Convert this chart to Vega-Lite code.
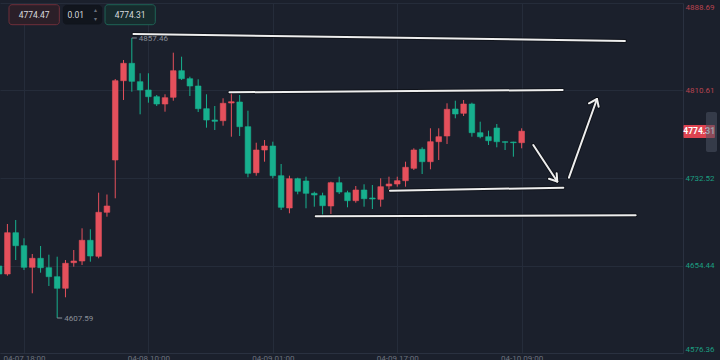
{
  "$schema": "https://vega.github.io/schema/vega-lite/v6.json",
  "width": 683,
  "height": 350,
  "autosize": {"type": "none"},
  "padding": {"left": 0, "top": 3, "right": 37, "bottom": 7},
  "background": "#1b202c",
  "config": {"view": {"stroke": null}, "font": "Roboto"},
  "datasets": {
    "candles": [
      {"i":0,"open":4654.00,"high":4655.78,"low":4645.08,"close":4646.86},
      {"i":1,"open":4646.86,"high":4691.48,"low":4645.34,"close":4683.71},
      {"i":2,"open":4683.71,"high":4695.05,"low":4659.35,"close":4672.11},
      {"i":3,"open":4672.11,"high":4678.72,"low":4650.43,"close":4652.84},
      {"i":4,"open":4652.84,"high":4664.71,"low":4629.64,"close":4660.87},
      {"i":5,"open":4660.87,"high":4671.85,"low":4648.02,"close":4652.48},
      {"i":6,"open":4652.48,"high":4664.08,"low":4636.15,"close":4644.45},
      {"i":7,"open":4644.45,"high":4662.30,"low":4607.59,"close":4634.10},
      {"i":8,"open":4634.10,"high":4659.35,"low":4626.07,"close":4656.41},
      {"i":9,"open":4656.94,"high":4668.28,"low":4653.37,"close":4658.46},
      {"i":10,"open":4658.46,"high":4687.64,"low":4654.89,"close":4676.93},
      {"i":11,"open":4676.93,"high":4686.75,"low":4657.84,"close":4662.92},
      {"i":12,"open":4662.66,"high":4719.41,"low":4660.87,"close":4701.92},
      {"i":13,"open":4701.92,"high":4717.80,"low":4697.99,"close":4707.54},
      {"i":14,"open":4748.59,"high":4820.87,"low":4714.41,"close":4819.35},
      {"i":15,"open":4819.35,"high":4837.83,"low":4802.13,"close":4834.88},
      {"i":16,"open":4834.88,"high":4857.46,"low":4809.54,"close":4818.82},
      {"i":17,"open":4818.46,"high":4825.96,"low":4789.37,"close":4811.06},
      {"i":18,"open":4811.06,"high":4825.96,"low":4799.72,"close":4805.08},
      {"i":19,"open":4805.08,"high":4806.59,"low":4796.78,"close":4798.56},
      {"i":20,"open":4798.56,"high":4807.22,"low":4791.69,"close":4804.18},
      {"i":21,"open":4804.54,"high":4844.34,"low":4801.51,"close":4828.28},
      {"i":22,"open":4828.28,"high":4840.77,"low":4819.98,"close":4821.14},
      {"i":23,"open":4821.14,"high":4822.92,"low":4805.70,"close":4814.62},
      {"i":24,"open":4814.62,"high":4820.60,"low":4791.42,"close":4794.37},
      {"i":25,"open":4794.37,"high":4807.22,"low":4777.41,"close":4784.28},
      {"i":26,"open":4784.28,"high":4796.78,"low":4775.36,"close":4783.12},
      {"i":27,"open":4783.66,"high":4803.65,"low":4779.20,"close":4799.19},
      {"i":28,"open":4799.45,"high":4808.65,"low":4769.38,"close":4800.61},
      {"i":29,"open":4800.35,"high":4806.59,"low":4770.01,"close":4778.31},
      {"i":30,"open":4778.31,"high":4792.58,"low":4733.15,"close":4736.72},
      {"i":31,"open":4737.26,"high":4764.03,"low":4734.58,"close":4757.51},
      {"i":32,"open":4757.51,"high":4766.44,"low":4747.07,"close":4761.08},
      {"i":33,"open":4761.08,"high":4764.92,"low":4732.26,"close":4734.58},
      {"i":34,"open":4734.58,"high":4745.02,"low":4703.97,"close":4706.38},
      {"i":35,"open":4705.76,"high":4734.58,"low":4701.03,"close":4731.90},
      {"i":36,"open":4731.90,"high":4732.80,"low":4717.98,"close":4720.66},
      {"i":37,"open":4729.85,"high":4733.69,"low":4705.49,"close":4718.87},
      {"i":38,"open":4718.87,"high":4720.30,"low":4706.92,"close":4717.36},
      {"i":39,"open":4716.73,"high":4719.41,"low":4699.51,"close":4707.81},
      {"i":40,"open":4707.54,"high":4729.23,"low":4700.40,"close":4728.33},
      {"i":41,"open":4728.33,"high":4733.69,"low":4718.25,"close":4720.03},
      {"i":42,"open":4719.41,"high":4721.19,"low":4706.38,"close":4712.27},
      {"i":43,"open":4712.27,"high":4725.39,"low":4710.49,"close":4721.82},
      {"i":44,"open":4721.82,"high":4726.91,"low":4706.92,"close":4714.06},
      {"i":45,"open":4714.68,"high":4726.28,"low":4704.86,"close":4713.79},
      {"i":46,"open":4713.52,"high":4732.26,"low":4706.92,"close":4724.76},
      {"i":47,"open":4725.39,"high":4733.69,"low":4721.82,"close":4727.17},
      {"i":48,"open":4727.17,"high":4733.69,"low":4724.76,"close":4730.12},
      {"i":49,"open":4730.12,"high":4747.07,"low":4724.76,"close":4742.08},
      {"i":50,"open":4741.18,"high":4759.03,"low":4739.67,"close":4757.51},
      {"i":51,"open":4758.14,"high":4759.92,"low":4736.10,"close":4747.07},
      {"i":52,"open":4747.07,"high":4776.88,"low":4740.29,"close":4764.92},
      {"i":53,"open":4764.92,"high":4776.88,"low":4748.59,"close":4769.38},
      {"i":54,"open":4770.01,"high":4799.19,"low":4762.87,"close":4793.83},
      {"i":55,"open":4794.10,"high":4801.51,"low":4785.80,"close":4789.64},
      {"i":56,"open":4790.26,"high":4802.13,"low":4787.85,"close":4798.56},
      {"i":57,"open":4798.56,"high":4799.72,"low":4769.38,"close":4772.95},
      {"i":58,"open":4772.95,"high":4782.77,"low":4767.95,"close":4769.38},
      {"i":59,"open":4769.38,"high":4774.74,"low":4761.98,"close":4765.81},
      {"i":60,"open":4777.15,"high":4780.71,"low":4759.92,"close":4764.92},
      {"i":61,"open":4764.92,"high":4765.20,"low":4757.51,"close":4764.38},
      {"i":62,"open":4764.65,"high":4764.90,"low":4751.53,"close":4764.03},
      {"i":63,"open":4764.03,"high":4776.88,"low":4759.03,"close":4774.31}
    ],
    "drawings": [
      {"i":16.20,"p":4861.03,"i2":75.45,"p2":4854.78},
      {"i":27.77,"p":4809.00,"i2":67.94,"p2":4811.05},
      {"i":47.12,"p":4721.19,"i2":68.02,"p2":4723.87},
      {"i":38.17,"p":4698.35,"i2":76.74,"p2":4699.24},
      {"i":64.40,"p":4761.98,"i2":67.29,"p2":4729.40},
      {"i":66.29,"p":4731.90,"i2":67.29,"p2":4729.40},
      {"i":67.22,"p":4736.72,"i2":67.29,"p2":4729.40},
      {"i":68.70,"p":4732.80,"i2":72.08,"p2":4803.02},
      {"i":71.11,"p":4799.19,"i2":72.08,"p2":4803.02},
      {"i":72.28,"p":4796.16,"i2":72.08,"p2":4803.02}
    ],
    "extremes": [
      {"i":16,"p":4857.46},
      {"i":7,"p":4607.59}
    ],
    "quote": [
      {"side":"ask","label":"4774.47","i":1.19,"i2":7.26,"p":4887.17,"p2":4869.33,"ic":4.23,"pc":4878.25},
      {"side":"step","label":"0.01","i":7.74,"i2":12.37,"p":4886.46,"p2":4869.95,"ic":9.24,"pc":4878.25},
      {"side":"bid","label":"4774.31","i":12.77,"i2":18.83,"p":4887.17,"p2":4869.33,"ic":15.80,"pc":4878.25}
    ],
    "stepper": [
      {"g":"▴","i":11.64,"p":4882.2},
      {"g":"▾","i":11.64,"p":4874.4}
    ],
    "last": [
      {"label":"4774.31","i":82.51,"i2":86.3,"p":4779.82,"p2":4768.22,"ic":84.4,"pc":4774.31}
    ],
    "handle": [
      {"i":85.22,"i2":86.55,"p":4791.42,"p2":4755.73}
    ]
  },
  "layer": [
    {
      "data": {"name": "candles"},
      "mark": {"type": "rule", "strokeWidth": 1},
      "encoding": {
        "x": {"field": "i", "type": "quantitative",
              "scale": {"domain": [0.107, 82.45], "nice": false, "zero": false, "padding": 0},
              "axis": {"title": null, "values": [3, 18, 33, 48, 63],
                       "labelExpr": "datum.value == 3 ? '04-07 18:00' : datum.value == 18 ? '04-08 10:00' : datum.value == 33 ? '04-09 01:00' : datum.value == 48 ? '04-09 17:00' : '04-10 09:00'",
                       "grid": true, "gridColor": "#252c3a", "gridWidth": 1,
                       "domain": true, "domainColor": "#2a3140", "ticks": false,
                       "labelFontSize": 8, "labelFont": "Roboto", "labelColor": "#6b717d",
                       "labelPadding": 1, "labelBaseline": "top", "labelFlush": false, "labelOverlap": false}},
        "y": {"field": "low", "type": "quantitative",
              "scale": {"domain": [4576.36, 4888.69], "nice": false, "zero": false, "padding": 0},
              "axis": {"orient": "right", "title": null,
                       "values": [4576.36, 4654.44, 4732.52, 4810.61, 4888.69],
                       "format": ".2f", "grid": true, "gridColor": "#252c3a", "gridWidth": 1,
                       "domain": true, "domainColor": "#2a3140", "ticks": false,
                       "labelFontSize": 8, "labelFont": "Roboto", "labelPadding": 2,
                       "labelFlush": true, "labelOverlap": false,
                       "labelColor": {"condition": {"test": "datum.value > 4774.31", "value": "#b8434f"}, "value": "#1b9e80"}}},
        "y2": {"field": "high"},
        "color": {"condition": {"test": "datum.close >= datum.open", "value": "#e5505c"}, "value": "#17b08e"}
      }
    },
    {
      "mark": {"type": "rule", "color": "#93404b", "strokeDash": [2, 2], "strokeWidth": 1},
      "encoding": {
        "y": {"datum": 4774.31, "type": "quantitative",
              "scale": {"domain": [4576.36, 4888.69], "nice": false, "zero": false, "padding": 0}}
      }
    },
    {
      "data": {"name": "candles"},
      "mark": {"type": "bar", "width": 5.6, "strokeWidth": 0.6},
      "encoding": {
        "x": {"field": "i", "type": "quantitative", "scale": {"domain": [0.107, 82.45], "nice": false, "zero": false, "padding": 0}},
        "y": {"field": "open", "type": "quantitative", "scale": {"domain": [4576.36, 4888.69], "nice": false, "zero": false, "padding": 0}},
        "y2": {"field": "close"},
        "color": {"condition": {"test": "datum.close >= datum.open", "value": "#e5505c"}, "value": "#17b08e"},
        "stroke": {"condition": {"test": "datum.close >= datum.open", "value": "#e5505c"}, "value": "#17b08e"}
      }
    },
    {
      "data": {"name": "drawings"},
      "mark": {"type": "rule", "color": "#0b0e14", "strokeWidth": 4, "opacity": 0.7, "strokeCap": "round"},
      "encoding": {
        "x": {"field": "i", "type": "quantitative", "scale": {"domain": [0.107, 82.45], "nice": false, "zero": false, "padding": 0}},
        "x2": {"field": "i2"},
        "y": {"field": "p", "type": "quantitative", "scale": {"domain": [4576.36, 4888.69], "nice": false, "zero": false, "padding": 0}},
        "y2": {"field": "p2"}
      }
    },
    {
      "data": {"name": "drawings"},
      "mark": {"type": "rule", "color": "#eeeeee", "strokeWidth": 2, "strokeCap": "round"},
      "encoding": {
        "x": {"field": "i", "type": "quantitative", "scale": {"domain": [0.107, 82.45], "nice": false, "zero": false, "padding": 0}},
        "x2": {"field": "i2"},
        "y": {"field": "p", "type": "quantitative", "scale": {"domain": [4576.36, 4888.69], "nice": false, "zero": false, "padding": 0}},
        "y2": {"field": "p2"}
      }
    },
    {
      "data": {"name": "extremes"},
      "mark": {"type": "rule", "color": "#8b9099", "strokeWidth": 1, "x2Offset": 5},
      "encoding": {
        "x": {"field": "i", "type": "quantitative", "scale": {"domain": [0.107, 82.45], "nice": false, "zero": false, "padding": 0}},
        "x2": {"field": "i"},
        "y": {"field": "p", "type": "quantitative", "scale": {"domain": [4576.36, 4888.69], "nice": false, "zero": false, "padding": 0}}
      }
    },
    {
      "data": {"name": "extremes"},
      "mark": {"type": "text", "color": "#8b9099", "fontSize": 8, "font": "Roboto", "align": "left", "baseline": "middle", "dx": 7, "dy": 1},
      "encoding": {
        "x": {"field": "i", "type": "quantitative", "scale": {"domain": [0.107, 82.45], "nice": false, "zero": false, "padding": 0}},
        "y": {"field": "p", "type": "quantitative", "scale": {"domain": [4576.36, 4888.69], "nice": false, "zero": false, "padding": 0}},
        "text": {"field": "p", "type": "quantitative", "format": ".2f"}
      }
    },
    {
      "data": {"name": "quote"},
      "mark": {"type": "rect", "strokeWidth": 1, "cornerRadius": 3},
      "encoding": {
        "x": {"field": "i", "type": "quantitative", "scale": {"domain": [0.107, 82.45], "nice": false, "zero": false, "padding": 0}},
        "x2": {"field": "i2"},
        "y": {"field": "p", "type": "quantitative", "scale": {"domain": [4576.36, 4888.69], "nice": false, "zero": false, "padding": 0}},
        "y2": {"field": "p2"},
        "fill": {"field": "side", "type": "nominal", "scale": {"domain": ["ask", "step", "bid"], "range": ["#2b1f28", "#11151d", "#172b2d"]}, "legend": null},
        "stroke": {"field": "side", "type": "nominal", "scale": {"domain": ["ask", "step", "bid"], "range": ["#6f2f3a", "#11151d", "#1e6456"]}, "legend": null}
      }
    },
    {
      "data": {"name": "quote"},
      "mark": {"type": "text", "color": "#d6d9de", "fontSize": 8.5, "font": "Roboto", "align": "center", "baseline": "middle"},
      "encoding": {
        "x": {"field": "ic", "type": "quantitative", "scale": {"domain": [0.107, 82.45], "nice": false, "zero": false, "padding": 0}},
        "y": {"field": "pc", "type": "quantitative", "scale": {"domain": [4576.36, 4888.69], "nice": false, "zero": false, "padding": 0}},
        "text": {"field": "label"}
      }
    },
    {
      "data": {"name": "stepper"},
      "mark": {"type": "text", "color": "#6b717d", "fontSize": 6, "align": "center", "baseline": "middle"},
      "encoding": {
        "x": {"field": "i", "type": "quantitative", "scale": {"domain": [0.107, 82.45], "nice": false, "zero": false, "padding": 0}},
        "y": {"field": "p", "type": "quantitative", "scale": {"domain": [4576.36, 4888.69], "nice": false, "zero": false, "padding": 0}},
        "text": {"field": "g"}
      }
    },
    {
      "data": {"name": "last"},
      "mark": {"type": "rect", "fill": "#dd4350", "cornerRadius": 1},
      "encoding": {
        "x": {"field": "i", "type": "quantitative", "scale": {"domain": [0.107, 82.45], "nice": false, "zero": false, "padding": 0}},
        "x2": {"field": "i2"},
        "y": {"field": "p", "type": "quantitative", "scale": {"domain": [4576.36, 4888.69], "nice": false, "zero": false, "padding": 0}},
        "y2": {"field": "p2"}
      }
    },
    {
      "data": {"name": "last"},
      "mark": {"type": "text", "color": "#ffffff", "fontSize": 8.5, "fontWeight": "bold", "font": "Roboto", "align": "center", "baseline": "middle"},
      "encoding": {
        "x": {"field": "ic", "type": "quantitative", "scale": {"domain": [0.107, 82.45], "nice": false, "zero": false, "padding": 0}},
        "y": {"field": "pc", "type": "quantitative", "scale": {"domain": [4576.36, 4888.69], "nice": false, "zero": false, "padding": 0}},
        "text": {"field": "label"}
      }
    },
    {
      "data": {"name": "handle"},
      "mark": {"type": "rect", "fill": "#4a5263", "opacity": 0.55, "cornerRadius": 2},
      "encoding": {
        "x": {"field": "i", "type": "quantitative", "scale": {"domain": [0.107, 82.45], "nice": false, "zero": false, "padding": 0}},
        "x2": {"field": "i2"},
        "y": {"field": "p", "type": "quantitative", "scale": {"domain": [4576.36, 4888.69], "nice": false, "zero": false, "padding": 0}},
        "y2": {"field": "p2"}
      }
    }
  ]
}
